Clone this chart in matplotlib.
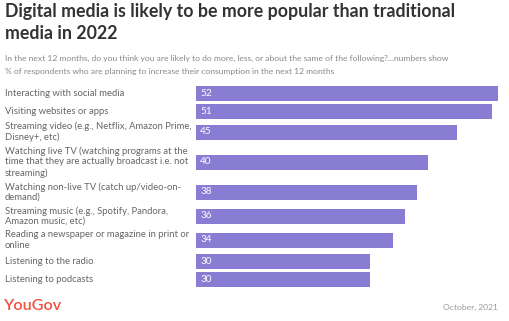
import numpy as np
import matplotlib
matplotlib.use('Agg')
import matplotlib.pyplot as plt
import matplotlib.transforms as mtransforms

labels = [
    "Interacting with social media",
    "Visiting websites or apps",
    "Streaming video (e.g., Netflix, Amazon Prime,\nDisney+, etc)",
    "Watching live TV (watching programs at the\ntime that they are actually broadcast i.e. not\nstreaming)",
    "Watching non-live TV (catch up/video-on-\ndemand)",
    "Streaming music (e.g., Spotify, Pandora,\nAmazon music, etc)",
    "Reading a newspaper or magazine in print or\nonline",
    "Listening to the radio",
    "Listening to podcasts",
]
values = [52, 51, 45, 40, 38, 36, 34, 30, 30]

title = "Digital media is likely to be more popular than traditional\nmedia in 2022"
subtitle = ("In the next 12 months, do you think you are likely to do more, less, or about the same of the following?...numbers show\n"
            "% of respondents who are planning to increase their consumption in the next 12 months")
source = "October, 2021"

W, H = 509, 321
fig = plt.figure(figsize=(W / 100, H / 100), dpi=100)
plt.rcParams['font.family'] = ['Lato', 'DejaVu Sans']

# row heights grow with the number of label lines
nlines = np.array([l.count("\n") + 1 for l in labels])
rowh = np.maximum(18, 12 * nlines)
centers = np.cumsum(rowh) - rowh / 2
total = rowh.sum()

top_px = 84
x0_px = 196
px_per = 302 / 52
ax = fig.add_axes([x0_px / W, 1 - (top_px + total) / H, (W - x0_px) / W, total / H])
ax.set_xlim(0, (W - x0_px) / px_per)
ax.set_ylim(total, 0)
ax.axis('off')

bar_color = '#897cd3'
ax.barh(centers, values, height=15, color=bar_color)
for c, v in zip(centers, values):
    ax.text(0.7, c, str(v), color='white', fontsize=7.2, va='center', ha='left')

trans = mtransforms.blended_transform_factory(fig.transFigure, ax.transData)
for c, l in zip(centers, labels):
    ax.text(5 / W, c, l, transform=trans, fontsize=6.85, color='#666666',
            va='center', ha='left', linespacing=1.22)

fig.text(5 / W, 1 - 3 / H, title, fontsize=12.8, fontweight='bold', color='#333333',
         va='top', ha='left', linespacing=1.35)
fig.text(5 / W, 1 - 55 / H, subtitle, fontsize=6.1, color='#888888',
         va='top', ha='left', linespacing=2.05)
fig.text(4 / W, 1 - 306 / H, "YouGov", fontsize=11.6, fontweight='semibold', color='#f4503f',
         va='center', ha='left')
fig.text(498 / W, 1 - 307 / H, source, fontsize=6.1, color='#999999',
         va='center', ha='right')

fig.savefig('out.png', dpi=100)
